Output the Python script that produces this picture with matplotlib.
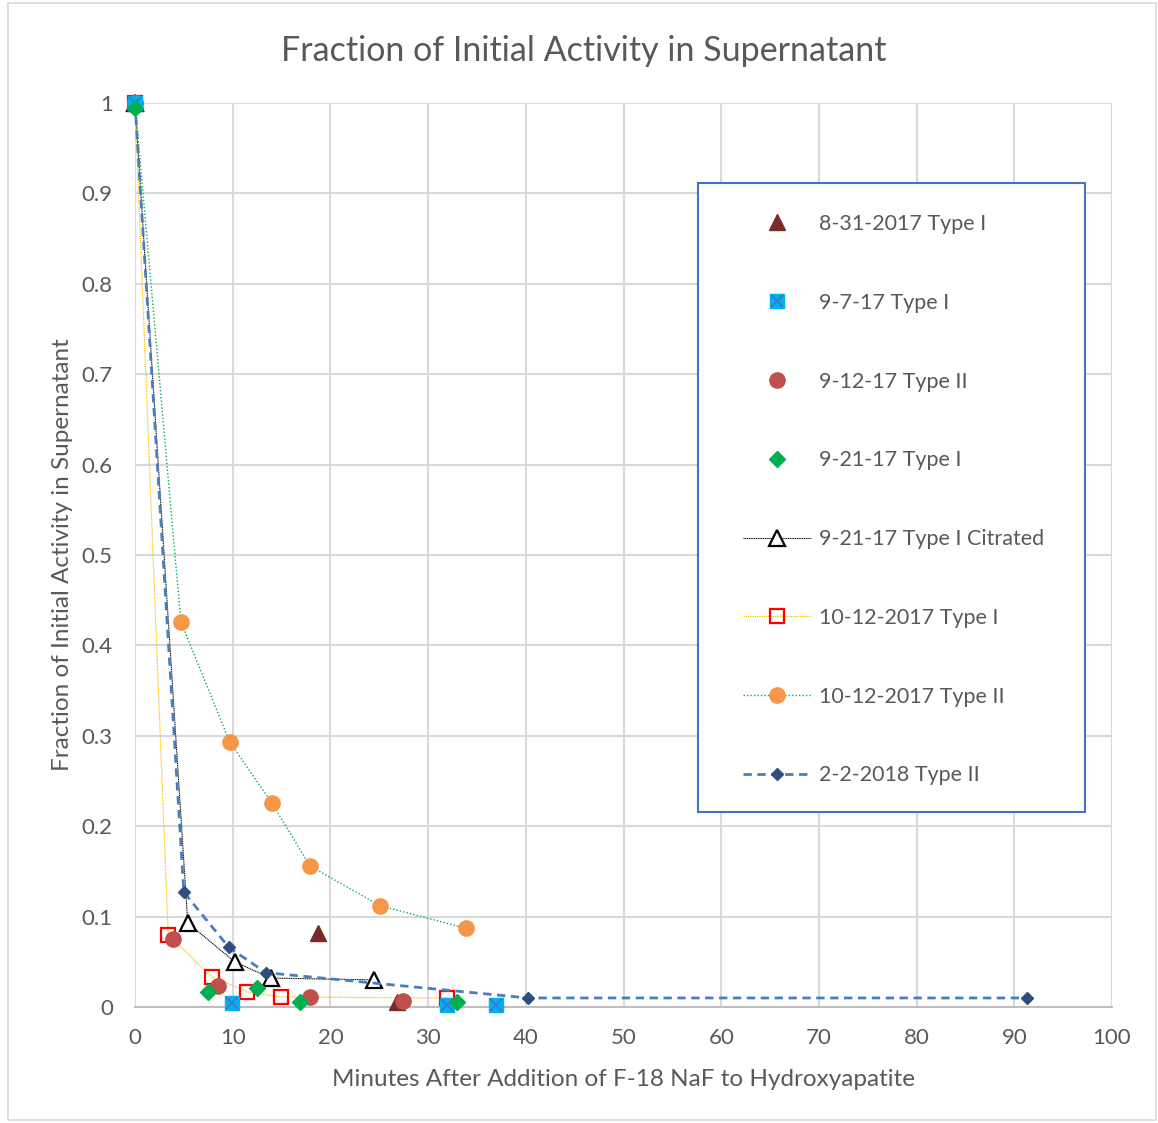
import numpy as np
import matplotlib.pyplot as plt
from matplotlib.patches import Rectangle

plt.rcParams['font.family'] = ['Lato', 'DejaVu Sans']

# data
x_831 = [0, 18.7, 26.8]
y_831 = [1.0, 0.082, 0.006]

x_97 = [0, 9.9, 31.9, 36.9]
y_97 = [1.0, 0.004, 0.002, 0.002]

x_912 = [0, 3.9, 8.5, 17.9, 27.4]
y_912 = [1.0, 0.075, 0.023, 0.011, 0.007]

x_921 = [0, 7.5, 12.5, 16.9, 33.0]
y_921 = [0.995, 0.017, 0.021, 0.006, 0.005]

x_cit = [0, 5.4, 10.2, 13.9, 24.5]
y_cit = [1.0, 0.093, 0.050, 0.032, 0.030]

x_1012a = [0, 3.4, 7.9, 11.5, 14.9, 31.9]
y_1012a = [1.0, 0.080, 0.033, 0.017, 0.011, 0.010]

x_1012b = [0, 4.7, 9.7, 14.0, 17.9, 25.1, 33.9]
y_1012b = [1.0, 0.426, 0.293, 0.226, 0.156, 0.112, 0.087]

x_22 = [0, 5.0, 9.6, 13.4, 40.2, 91.3]
y_22 = [1.0, 0.127, 0.066, 0.038, 0.010, 0.010]

labels = ['8-31-2017 Type I', '9-7-17 Type I', '9-12-17 Type II', '9-21-17 Type I',
          '9-21-17 Type I Citrated', '10-12-2017 Type I', '10-12-2017 Type II',
          '2-2-2018 Type II']

W, H = 1158, 1123
fig = plt.figure(figsize=(W / 100, H / 100), dpi=100)
ax = fig.add_axes([135 / W, 1 - 1007 / H, (1112 - 135) / W, (1007 - 103) / H])

txt = '#595959'
grid = '#D9D9D9'

# lines first, markers on top
h_cit, = ax.plot(x_cit, y_cit, color='black', lw=0.8, ls=(0, (1, 0.6)),
                 marker='^', ms=11, mfc='white', mec='black', mew=1.6,
                 clip_on=False, zorder=4, label=labels[4])
h_1012a, = ax.plot(x_1012a, y_1012a, color='#FFC000', lw=0.9, ls=(0, (1, 0.8)),
                   marker='s', ms=10, mfc='none', mec='#FF0000', mew=1.6,
                   clip_on=False, zorder=4, label=labels[5])
h_1012b, = ax.plot(x_1012b, y_1012b, color='#00B050', lw=1.0, ls=(0, (1, 1.5)),
                   marker='o', ms=11, mfc='#F79646', mec='#F79646',
                   clip_on=False, zorder=4, label=labels[6])
h_22, = ax.plot(x_22, y_22, color='#4A7EBB', lw=2.0, ls=(0, (3, 2)),
                marker='D', ms=6.5, mfc='#2E4F7E', mec='#2E4F7E',
                clip_on=False, zorder=5, label=labels[7])

h_831, = ax.plot(x_831, y_831, ls='none', marker='^', ms=11, color='#772C2A',
                 clip_on=False, zorder=6, label=labels[0])
h_912, = ax.plot(x_912, y_912, ls='none', marker='o', ms=11, color='#C0504D',
                 clip_on=False, zorder=6, label=labels[2])
h_921, = ax.plot(x_921, y_921, ls='none', marker='D', ms=8, color='#00B050',
                 clip_on=False, zorder=7, label=labels[3])
h_97, = ax.plot(x_97, y_97, ls='none', marker='s', ms=10, color='#00B0F0',
                clip_on=False, zorder=6, label=labels[1])
h_97x, = ax.plot(x_97, y_97, ls='none', marker='x', ms=9, mew=1.2, color='#4472C4',
                 clip_on=False, zorder=6)

ax.set_xlim(0, 100)
ax.set_ylim(0, 1)
ax.set_xticks(np.arange(0, 101, 10))
ax.set_yticks(np.arange(0, 1.01, 0.1))
ax.set_yticklabels(['0', '0.1', '0.2', '0.3', '0.4', '0.5', '0.6', '0.7', '0.8', '0.9', '1'])
ax.grid(True, color=grid, lw=1.5)
ax.set_axisbelow(True)
for s in ['top', 'right', 'left']:
    ax.spines[s].set_visible(False)
ax.spines['bottom'].set_color('#BFBFBF')
ax.spines['bottom'].set_linewidth(1.5)
ax.tick_params(length=0, labelsize=16, colors=txt)
ax.tick_params(axis='x', pad=15)
ax.tick_params(axis='y', pad=16)

ax.set_title('Fraction of Initial Activity in Supernatant', fontsize=24.5, color=txt,
             pad=30, x=(584 - 135) / (1112 - 135))
ax.set_xlabel('Minutes After Addition of F-18 NaF to Hydroxyapatite', fontsize=17.5,
              color=txt, labelpad=15)
ax.set_ylabel('Fraction of Initial Activity in Supernatant', fontsize=17.5,
              color=txt, labelpad=6)

# legend box: white, blue edge, drawn above the grid and under the legend entries
ax.add_patch(Rectangle((698 / W, 1 - 812 / H), (1085 - 698) / W, (812 - 183) / H,
                       transform=fig.transFigure, fc='white', ec='#4472C4', lw=1.5,
                       zorder=9, clip_on=False))

handles = [h_831, (h_97, h_97x), h_912, h_921, h_cit, h_1012a, h_1012b, h_22]
leg = ax.legend(handles, labels, loc='upper left', frameon=False,
                bbox_to_anchor=(743 / W, 1 - 214 / H), bbox_transform=fig.transFigure,
                borderpad=0, borderaxespad=0, fontsize=15.5, labelcolor=txt,
                labelspacing=2.73, handlelength=3.16, handletextpad=0.37, numpoints=1)
leg.set_zorder(10)

# chart border
fig.patches.append(Rectangle((8 / W, 3 / H), (W - 10) / W, (H - 6) / H,
                             transform=fig.transFigure, fill=False, ec=grid, lw=1.2))

fig.savefig('out.png', dpi=100)
